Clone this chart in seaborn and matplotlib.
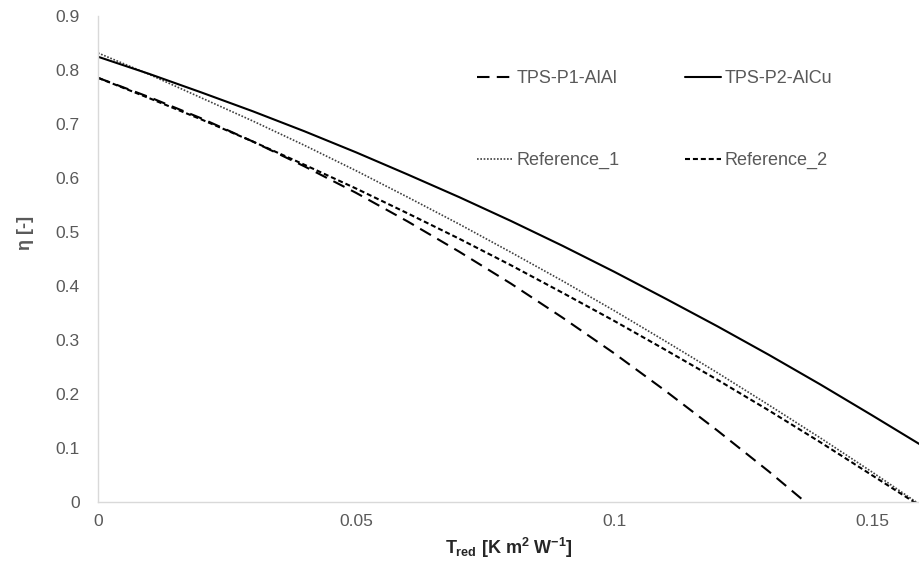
import matplotlib
matplotlib.use("Agg")
import matplotlib.pyplot as plt
import pandas as pd
import seaborn as sns

# Curves
t_p1 = [0, 0.01, 0.02, 0.03, 0.04, 0.05, 0.06, 0.07, 0.08, 0.09, 0.10, 0.11, 0.12, 0.13, 0.137]
eta_p1 = [0.785, 0.749, 0.710, 0.667, 0.621, 0.572, 0.519, 0.463, 0.404, 0.341, 0.275, 0.205, 0.132, 0.056, 0.0]

t_all = [0, 0.01, 0.02, 0.03, 0.04, 0.05, 0.06, 0.07, 0.08, 0.09, 0.10, 0.11, 0.12, 0.13, 0.14, 0.15, 0.16]
eta_p2 = [0.824, 0.792, 0.758, 0.723, 0.686, 0.647, 0.606, 0.564, 0.520, 0.474, 0.426, 0.376, 0.325, 0.272, 0.217, 0.160, 0.102]
eta_ref1 = [0.831, 0.791, 0.748, 0.705, 0.660, 0.613, 0.564, 0.514, 0.462, 0.409, 0.354, 0.297, 0.239, 0.179, 0.118, 0.055, -0.010]
eta_ref2 = [0.785, 0.747, 0.708, 0.667, 0.624, 0.580, 0.534, 0.487, 0.438, 0.387, 0.335, 0.281, 0.226, 0.169, 0.110, 0.049, -0.012]

x_ticks = [0, 0.05, 0.1, 0.15]
x_tick_labels = ["0", "0.05", "0.1", "0.15"]
y_ticks = [0, 0.1, 0.2, 0.3, 0.4, 0.5, 0.6, 0.7, 0.8, 0.9]
y_tick_labels = ["0", "0.1", "0.2", "0.3", "0.4", "0.5", "0.6", "0.7", "0.8", "0.9"]

sns.set_style("white")
plt.rcParams["font.family"] = ["Liberation Sans", "DejaVu Sans"]
plt.rcParams["mathtext.fontset"] = "custom"
plt.rcParams["mathtext.rm"] = "Liberation Sans:bold"
plt.rcParams["mathtext.it"] = "Liberation Sans:bold"
plt.rcParams["mathtext.bf"] = "Liberation Sans:bold"

gray = "#595959"

fig = plt.figure(figsize=(9.19, 5.64), dpi=100)
ax = fig.add_axes([98 / 919, 1 - 501.7 / 564, 1 - 98 / 919, (501.7 - 15.7) / 564])

df_p1 = pd.DataFrame({"T": t_p1, "eta": eta_p1})
df_rest = pd.DataFrame({"T": t_all, "p2": eta_p2, "ref1": eta_ref1, "ref2": eta_ref2})

sns.lineplot(data=df_p1, x="T", y="eta", ax=ax, color="black", linewidth=1.5,
             linestyle=(0, (6, 3.5)), label="TPS-P1-AlAl")
sns.lineplot(data=df_rest, x="T", y="ref1", ax=ax, color="#404040", linewidth=1.2,
             linestyle=(0, (1, 1)), label="Reference_1")
sns.lineplot(data=df_rest, x="T", y="p2", ax=ax, color="black", linewidth=1.5,
             linestyle="-", label="TPS-P2-AlCu")
sns.lineplot(data=df_rest, x="T", y="ref2", ax=ax, color="black", linewidth=1.5,
             linestyle=(0, (2.4, 1.4)), label="Reference_2")

ax.set_xlim(0, 0.1591)
ax.set_ylim(0, 0.9)
ax.set_xticks(x_ticks)
ax.set_xticklabels(x_tick_labels)
ax.set_yticks(y_ticks)
ax.set_yticklabels(y_tick_labels)
ax.tick_params(axis="both", length=0, labelsize=12.5, labelcolor=gray)
ax.tick_params(axis="y", pad=13)
ax.tick_params(axis="x", pad=9)

for side in ["top", "right"]:
    ax.spines[side].set_visible(False)
for side in ["left", "bottom"]:
    ax.spines[side].set_color("#d9d9d9")
    ax.spines[side].set_linewidth(1.0)

ax.set_xlabel(r"$T_{red}$ [K m$^{2}$ W$^{-1}$]", fontsize=13, fontweight="bold", color="#262626")
ax.set_ylabel("η [-]", fontsize=13, fontweight="bold", color=gray)
ax.xaxis.set_label_coords(0.5, -0.07)
ax.yaxis.set_label_coords(-0.078, 0.553)

leg = ax.legend(ncol=2, frameon=False, fontsize=13, handlelength=2.0, handletextpad=0.2,
                columnspacing=3.6, labelspacing=3.6, borderpad=0, borderaxespad=0,
                loc="upper left", bbox_to_anchor=(477 / 919, 1 - 70 / 564),
                bbox_transform=fig.transFigure)
for txt in leg.get_texts():
    txt.set_color(gray)

fig.savefig("out.png", dpi=100)
